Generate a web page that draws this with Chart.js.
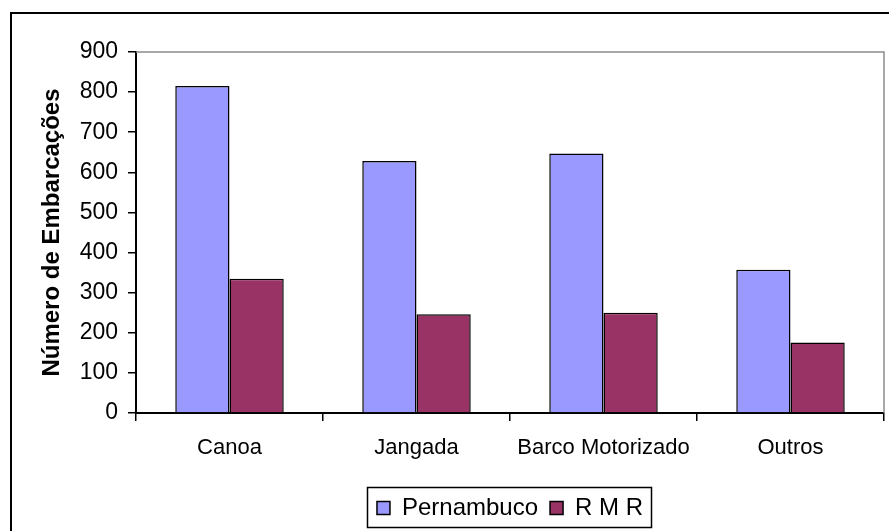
<!DOCTYPE html>
<html>
<head>
<meta charset="utf-8">
<script src="https://cdn.jsdelivr.net/npm/chart.js@4/dist/chart.umd.min.js"></script>
<style>
  html, body { margin: 0; padding: 0; background: #fff; }
  #wrap { width: 889px; height: 531px; position: relative; }
</style>
</head>
<body>
<div id="wrap"><canvas id="c" width="889" height="531"></canvas></div>
<script>
const categories = ['Canoa', 'Jangada', 'Barco Motorizado', 'Outros'];
const pernambuco = [815, 628, 647, 357];
const rmr = [335, 246, 250, 176];
const yTitle = 'Número de Embarcações';
const seriesNames = ['Pernambuco', 'R M R'];

const FONT = "'Liberation Sans', Arial, sans-serif";

const framePlugin = {
  id: 'frame',
  afterLayout(chart) {
    const lg = chart.legend;
    const a = chart.chartArea;
    if (lg) {
      const off = (a.left + a.right) / 2 - (lg.left + lg.right) / 2;
      lg.left += off;
      lg.right += off;
    }
  },
  afterDraw(chart) {
    const ctx = chart.ctx;
    const a = chart.chartArea;
    ctx.save();
    // outer chart border (left and top visible)
    ctx.strokeStyle = '#000';
    ctx.lineWidth = 2;
    ctx.beginPath();
    ctx.moveTo(11, chart.height);
    ctx.lineTo(11, 13);
    ctx.lineTo(chart.width, 13);
    ctx.stroke();
    // plot area border top & right
    ctx.strokeStyle = '#8c8c8c';
    ctx.lineWidth = 1.5;
    ctx.beginPath();
    ctx.moveTo(a.left, a.top);
    ctx.lineTo(a.right, a.top);
    ctx.lineTo(a.right, a.bottom);
    ctx.stroke();
    // legend box
    const lg = chart.legend;
    if (lg && lg.legendHitBoxes && lg.legendHitBoxes.length) {
      const hb = lg.legendHitBoxes;
      let minL = Infinity, maxR = -Infinity, top = Infinity, bot = -Infinity;
      hb.forEach(b => {
        minL = Math.min(minL, b.left);
        maxR = Math.max(maxR, b.left + b.width);
        top = Math.min(top, b.top);
        bot = Math.max(bot, b.top + b.height);
      });
      const cy = (top + bot) / 2;
      ctx.strokeStyle = '#000';
      ctx.lineWidth = 1.5;
      ctx.strokeRect(Math.round(minL - 10) + 0.5, Math.round(cy - 21) + 0.5, Math.round(maxR - minL + 18), 40);
    }
    ctx.restore();
  }
};

new Chart(document.getElementById('c'), {
  type: 'bar',
  data: {
    labels: categories,
    datasets: [
      { label: seriesNames[0], data: pernambuco, backgroundColor: '#9999FF', borderColor: '#000', borderWidth: 1.5 },
      { label: seriesNames[1], data: rmr, backgroundColor: '#993366', borderColor: '#000', borderWidth: 1.5 }
    ]
  },
  options: {
    responsive: false,
    devicePixelRatio: 1,
    animation: false,
    layout: { padding: { left: 10, right: 5, top: 52, bottom: 1 } },
    datasets: { bar: { categoryPercentage: 0.58, barPercentage: 1.0 } },
    plugins: {
      tooltip: { enabled: false },
      legend: {
        position: 'bottom',
        labels: {
          font: { family: FONT, size: 24 },
          color: '#000',
          boxWidth: 13,
          boxHeight: 13,
          padding: 12
        }
      }
    },
    scales: {
      x: {
        afterFit(scale) { scale.height = 71; },
        grid: { display: true, drawOnChartArea: false, drawTicks: true, tickLength: 8, color: '#000', lineWidth: 1.5 },
        border: { display: true, color: '#000', width: 2 },
        ticks: { font: { family: FONT, size: 22 }, color: '#000', padding: 14, maxRotation: 0 }
      },
      y: {
        min: 0,
        max: 900,
        afterFit(scale) { scale.width = 126; },
        grid: { display: true, drawOnChartArea: false, drawTicks: true, tickLength: 8, color: '#000', lineWidth: 1.5 },
        border: { display: true, color: '#000', width: 2 },
        ticks: { stepSize: 100, font: { family: FONT, size: 23 }, color: '#000', padding: 10 },
        title: {
          display: true,
          text: yTitle,
          font: { family: FONT, size: 24, weight: 'bold' },
          color: '#000',
          padding: { top: 28, bottom: 0 }
        }
      }
    }
  },
  plugins: [framePlugin]
});
</script>
</body>
</html>
